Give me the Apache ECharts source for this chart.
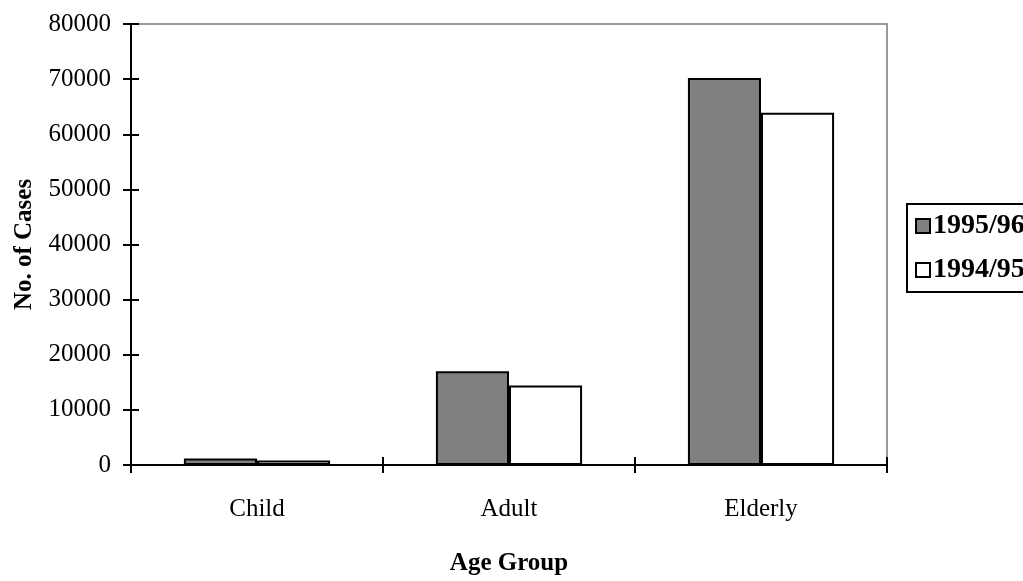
<!DOCTYPE html>
<html>
<head>
<meta charset="utf-8">
<script src="https://cdn.jsdelivr.net/npm/echarts@6/dist/echarts.min.js"></script>
<style>html,body{margin:0;padding:0;background:#fff}#c{width:1023px;height:581px}</style>
</head>
<body>
<div id="c"></div>
<script>
var categories = ['Child', 'Adult', 'Elderly'];
var s1995 = [1200, 17000, 70200];
var s1994 = [800, 14400, 63900];
var seriesNames = ['1995/96', '1994/95'];

var FONT = '"Liberation Serif", "Times New Roman", serif';
var FS = 25;
var chart = echarts.init(document.getElementById('c'));
var yBase = {
  type: 'value', min: 0, max: 80000, interval: 10000,
  splitLine: { show: false }
};
chart.setOption({
  animation: false,
  backgroundColor: '#fff',
  textStyle: { fontFamily: FONT },
  grid: { left: 131, right: 136, top: 24, bottom: 114, show: true, borderColor: '#999', borderWidth: 2, backgroundColor: 'transparent' },
  legend: {
    orient: 'vertical', left: 907, top: 204,
    data: seriesNames,
    icon: 'rect', itemWidth: 14, itemHeight: 14, itemGap: 16,
    padding: [8, 30, 8, 8],
    borderColor: '#000', borderWidth: 2,
    textStyle: { fontFamily: FONT, fontSize: 28, fontWeight: 'bold', color: '#000', lineHeight: 26, padding: [0, 0, 0, -2] }
  },
  xAxis: [{
    type: 'category', data: categories, boundaryGap: true,
    name: 'Age Group', nameLocation: 'middle', nameGap: 86,
    nameTextStyle: { fontFamily: FONT, fontSize: FS, fontWeight: 'bold', color: '#000' },
    axisLine: { lineStyle: { color: '#000', width: 2 } },
    axisTick: { show: true, length: 8, lineStyle: { color: '#000', width: 2 } },
    axisLabel: { fontFamily: FONT, fontSize: FS, color: '#000', margin: 32 }
  }, {
    type: 'category', data: categories, boundaryGap: true, position: 'bottom',
    axisLine: { show: false },
    axisTick: { show: true, inside: true, length: 8, lineStyle: { color: '#000', width: 2 } },
    axisLabel: { show: false }
  }],
  yAxis: [Object.assign({}, yBase, {
    name: 'No. of Cases', nameLocation: 'middle', nameGap: 94,
    nameTextStyle: { fontFamily: FONT, fontSize: FS, fontWeight: 'bold', color: '#000' },
    axisLine: { show: true, lineStyle: { color: '#000', width: 2 } },
    axisTick: { show: true, length: 8, lineStyle: { color: '#000', width: 2 } },
    axisLabel: { fontFamily: FONT, fontSize: FS, color: '#000', margin: 20, formatter: function (v) { return String(v); } }
  }), Object.assign({}, yBase, {
    position: 'left',
    axisLine: { show: false },
    axisTick: { show: true, inside: true, length: 8, lineStyle: { color: '#000', width: 2 } },
    axisLabel: { show: false }
  })],
  series: [{
    name: seriesNames[0], type: 'bar', data: s1995,
    barGap: '0%', barCategoryGap: '42%',
    itemStyle: { color: '#808080', borderColor: '#000', borderWidth: 2 }
  }, {
    name: seriesNames[1], type: 'bar', data: s1994,
    barGap: '0%', barCategoryGap: '42%',
    itemStyle: { color: '#fff', borderColor: '#000', borderWidth: 2 }
  }]
});
</script>
</body>
</html>
